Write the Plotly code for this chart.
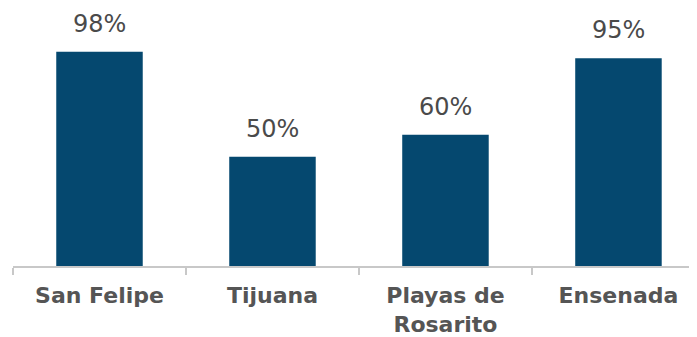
import plotly.graph_objects as go

categories = ["San Felipe", "Tijuana", "Playas de<br>Rosarito", "Ensenada"]
values = [98, 50, 60, 95]
labels = ["98%", "50%", "60%", "95%"]

bar_color = "#05486F"

fig = go.Figure()
fig.add_trace(go.Bar(x=categories, y=values, marker=dict(color=bar_color, line=dict(width=0)),
                     hoverinfo="skip"))

for c, v, t in zip(categories, values, labels):
    fig.add_annotation(x=c, y=v, text=t, showarrow=False, yanchor="bottom", yshift=12,
                       font=dict(family="DejaVu Sans", size=24, color="#4a4a4a"))

fig.update_layout(
    width=689, height=329,
    margin=dict(l=5, r=0, t=0, b=69),
    paper_bgcolor="white", plot_bgcolor="white",
    bargap=0.5, showlegend=False,
)
fig.update_xaxes(
    range=[-0.5, 3.454], showline=True, linecolor="#C8C8C8", linewidth=2,
    ticks="outside", tickson="boundaries", ticklen=7, tickcolor="#C8C8C8", tickwidth=2,
    tickfont=dict(family="DejaVu Sans", size=22, color="#555555", weight="bold"),
    showgrid=False, zeroline=False, ticklabelstandoff=9,
)
fig.update_yaxes(range=[0, 118], visible=False, showgrid=False, zeroline=False)

fig.write_html("out.html")
